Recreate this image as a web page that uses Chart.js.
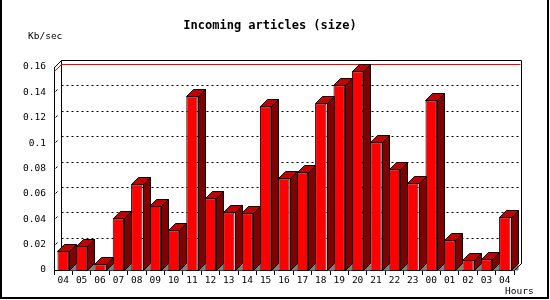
<!DOCTYPE html>
<html>
<head>
<meta charset="utf-8">
<script src="https://cdn.jsdelivr.net/npm/chart.js@4.4.1/dist/chart.umd.min.js"></script>
<style>
  html, body { margin: 0; padding: 0; background: #fff; }
  canvas { display: block; }
</style>
</head>
<body>
<canvas id="sizeChart" width="550" height="300"></canvas>
<script>
// hours of the day (last 24h + current)
var hours = ['04', '05', '06', '07', '08', '09', '10', '11', '12', '13', '14', '15', '16',
             '17', '18', '19', '20', '21', '22', '23', '00', '01', '02', '03', '04'];
// Kb/sec per hour
var kbPerSec = [0.015, 0.0189, 0.0045, 0.0407, 0.0675, 0.0504, 0.0313, 0.137, 0.0565, 0.0454,
                0.0446, 0.129, 0.0722, 0.0769, 0.1313, 0.1457, 0.1567, 0.1006, 0.0793, 0.0683,
                0.1336, 0.0234, 0.0079, 0.0084, 0.0415];
var yTicks = [0, 0.02, 0.04, 0.06, 0.08, 0.1, 0.12, 0.14, 0.16];

var DEPTH = 7;
var monoFont = "'DejaVu Sans Mono', 'Liberation Mono', monospace";

function px(v) { return Math.round(v) + 0.5; }

// back walls, dotted grid and the red max line (behind the bars)
var backPlane = {
    id: 'backPlane',
    beforeDatasetsDraw: function (chart) {
        var ctx = chart.ctx, a = chart.chartArea, ys = chart.scales.y;
        var L = px(a.left), R = px(a.right), T = px(a.top), B = px(a.bottom), d = DEPTH;
        ctx.save();
        ctx.lineWidth = 1;

        // dotted grid on the back plane
        ctx.strokeStyle = '#000';
        yTicks.forEach(function (v) {
            if (v <= 0 || v >= yTicks[yTicks.length - 1]) return;
            var y = px(ys.getPixelForValue(v));
            ctx.setLineDash([2, 3]);
            ctx.beginPath();
            ctx.moveTo(L + d, y - d);
            ctx.lineTo(R + d, y - d);
            ctx.stroke();
            ctx.setLineDash([]);
            ctx.beginPath();
            ctx.moveTo(L + 1, y - 1);
            ctx.lineTo(L + 3, y - 3);
            ctx.stroke();
        });

        // frame
        ctx.beginPath();
        ctx.moveTo(L, T);
        ctx.lineTo(L + d, T - d);
        ctx.lineTo(R + d, T - d);
        ctx.lineTo(R + d, B - d);
        ctx.lineTo(R, B);
        ctx.moveTo(L + d, T - d);
        ctx.lineTo(L + d, B - d);
        ctx.stroke();

        // max line
        var maxVal = Math.max.apply(null, kbPerSec);
        var ym = px(ys.getPixelForValue(maxVal));
        ctx.strokeStyle = '#ff0000';
        ctx.beginPath();
        ctx.moveTo(L, ym);
        ctx.lineTo(L + d, ym - d);
        ctx.lineTo(R + d - 1, ym - d);
        ctx.stroke();
        ctx.restore();
    },
    // top and side faces of the bars
    afterDatasetsDraw: function (chart) {
        var ctx = chart.ctx, d = DEPTH;
        var meta = chart.getDatasetMeta(0);
        ctx.save();
        ctx.lineWidth = 1;
        ctx.strokeStyle = '#000';
        meta.data.forEach(function (bar) {
            var p = bar.getProps(['x', 'y', 'base', 'width'], true);
            var l = px(p.x - p.width / 2), r = px(p.x + p.width / 2);
            var t = px(p.y), b = px(p.base);
            // shadow on floor
            ctx.fillStyle = '#808080';
            ctx.beginPath();
            ctx.moveTo(r, b);
            ctx.lineTo(r + d, b - d);
            ctx.lineTo(r + d, b);
            ctx.closePath();
            ctx.fill();
            // side
            ctx.fillStyle = '#800000';
            ctx.beginPath();
            ctx.moveTo(r, t);
            ctx.lineTo(r + d, t - d);
            ctx.lineTo(r + d, b - d);
            ctx.lineTo(r, b);
            ctx.closePath();
            ctx.fill();
            ctx.stroke();
            // top
            ctx.fillStyle = '#c00000';
            ctx.beginPath();
            ctx.moveTo(l, t);
            ctx.lineTo(l + d, t - d);
            ctx.lineTo(r + d, t - d);
            ctx.lineTo(r, t);
            ctx.closePath();
            ctx.fill();
            ctx.stroke();
        });
        ctx.restore();
    },
    afterDraw: function (chart) {
        var ctx = chart.ctx, a = chart.chartArea;
        ctx.save();
        ctx.strokeStyle = '#000';
        ctx.lineWidth = 1;
        ctx.beginPath();
        ctx.moveTo(px(a.right), px(a.bottom));
        ctx.lineTo(px(a.right) + DEPTH, px(a.bottom) - DEPTH);
        ctx.stroke();
        ctx.fillStyle = '#000';
        ctx.textBaseline = 'middle';
        // title
        ctx.font = 'bold 12px ' + monoFont;
        ctx.textAlign = 'center';
        ctx.fillText('Incoming articles (size)', 270, 26);
        // axis titles
        ctx.font = '9.5px ' + monoFont;
        ctx.textAlign = 'left';
        ctx.fillText('Kb/sec', 28, 37);
        ctx.fillText('Hours', 505, 292);
        // outer frame
        ctx.fillRect(0, 0, 2, 299);
        ctx.fillRect(547, 0, 2, 299);
        ctx.fillRect(0, 297, 549, 2);
        ctx.restore();
    }
};

var ctx = document.getElementById('sizeChart').getContext('2d');
var sizeChart = new Chart(ctx, {
    type: 'bar',
    data: {
        labels: hours,
        datasets: [{
            label: 'Kb/sec',
            data: kbPerSec,
            backgroundColor: '#ff0000',
            borderColor: '#000',
            borderWidth: 1,
            barPercentage: 0.62,
            categoryPercentage: 1
        }]
    },
    options: {
        responsive: false,
        devicePixelRatio: 1,
        animation: false,
        layout: { padding: { left: 0, right: 36, top: 67, bottom: 0 } },
        plugins: {
            legend: { display: false },
            tooltip: { enabled: false },
            title: { display: false }
        },
        scales: {
            x: {
                afterFit: function (s) { s.height = 30; },
                grid: { display: true, drawOnChartArea: false, drawTicks: true, tickLength: 5, color: '#000', offset: true },
                border: { display: true, color: '#000', width: 1 },
                ticks: { color: '#000', font: { family: monoFont, size: 9.5 }, maxRotation: 0, autoSkip: false, padding: 0 }
            },
            y: {
                min: 0,
                max: 0.16,
                afterFit: function (s) { s.width = 54; },
                afterBuildTicks: function (s) { s.ticks = yTicks.map(function (v) { return { value: v }; }); },
                grid: { display: false, drawTicks: false },
                border: { display: true, color: '#000', width: 1 },
                ticks: {
                    color: '#000',
                    padding: 8,
                    font: { family: monoFont, size: 9.5 },
                    callback: function (v) { return String(+v.toFixed(2)); }
                }
            }
        }
    },
    plugins: [backPlane]
});
</script>
</body>
</html>
